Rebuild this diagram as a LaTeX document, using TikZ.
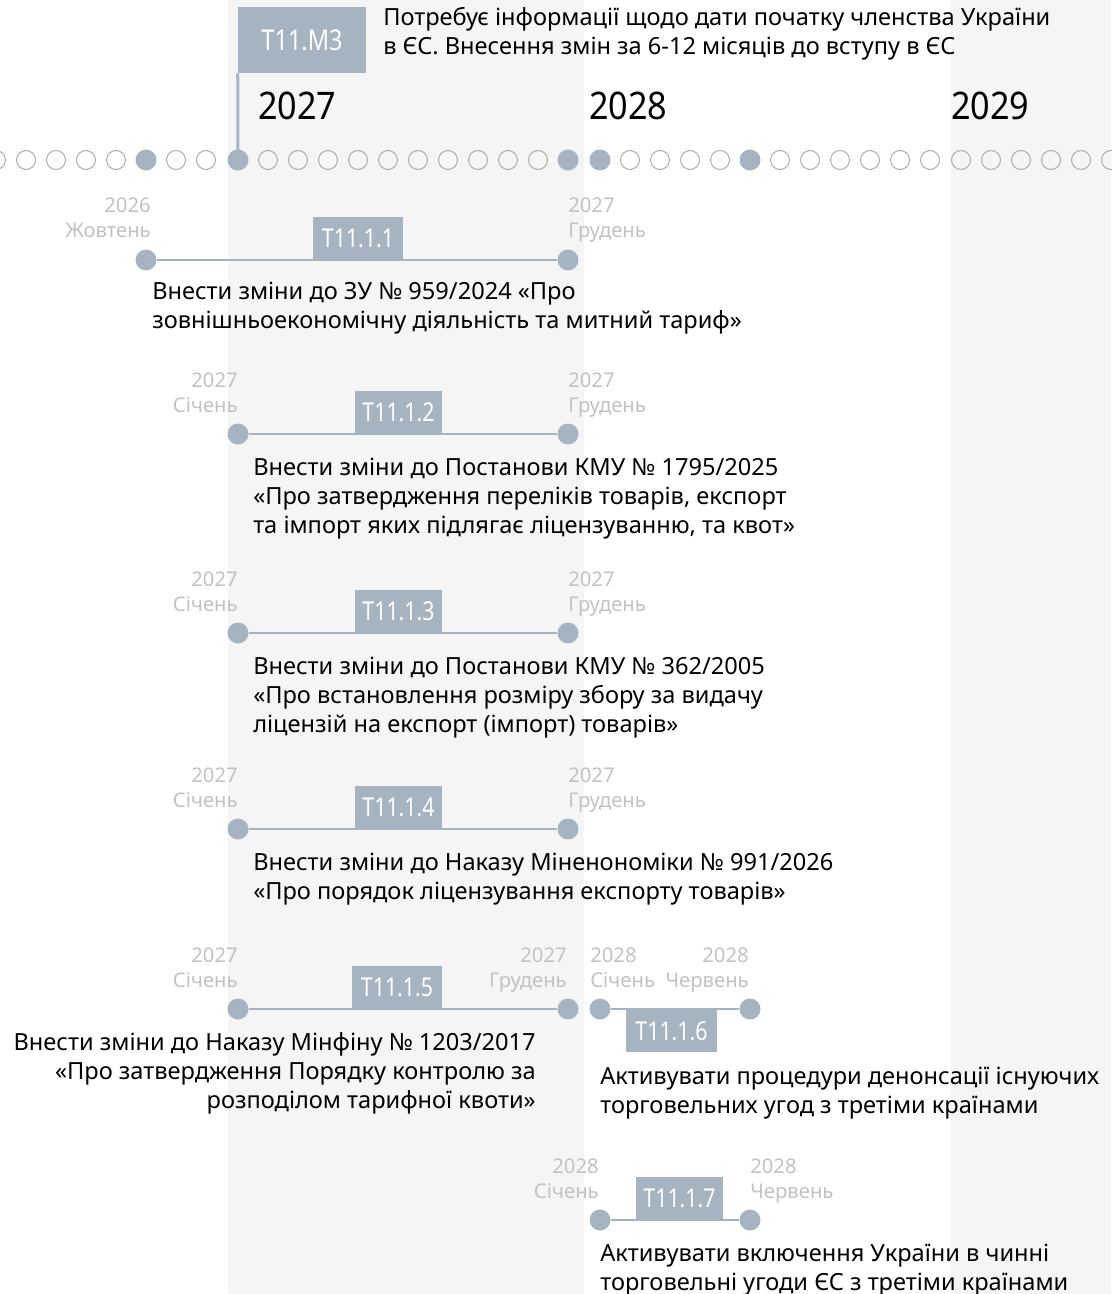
\documentclass[tikz,border=0pt]{standalone}
\usepackage{fontspec}
\setmainfont{Noto Sans}
\newfontfamily\tagfont[FakeStretch=0.82]{Noto Sans}
\newfontfamily\yearfont[FakeStretch=0.9]{Noto Sans}
\definecolor{band}{HTML}{F5F5F5}
\definecolor{steel}{HTML}{A6B4C1}
\definecolor{lbl}{HTML}{C2C2C2}
\definecolor{ring}{HTML}{ABABAB}
\pgfdeclarelayer{bgzero}
\pgfdeclarelayer{bgone}
\pgfsetlayers{bgzero,bgone,main}
\tikzset{
 monthdot/.style={circle, draw=ring, line width=0.75pt, minimum size=14.25pt, inner sep=0pt},
 keydot/.style={circle, fill=steel, minimum size=15.75pt, inner sep=0pt},
 enddot/.style={circle, fill=steel, minimum size=15.75pt, inner sep=0pt},
 tagbox/.style={fill=steel, text=white, font=\tagfont\fontsize{19.5}{20}\selectfont, inner sep=0pt, minimum height=32.25pt},
 datelbl/.style={text=lbl, font=\fontsize{15.2}{18.75}\selectfont, inner sep=0pt},
 desc/.style={font=\fontsize{17.7}{21.75}\selectfont, inner sep=0pt, text=black},
 yearlbl/.style={font=\yearfont\bfseries\fontsize{28.5}{30}\selectfont, inner sep=0pt, anchor=base west},
 link/.style={draw=steel, line width=1.6pt},
}
\begin{document}
\begin{tikzpicture}[x=0.75pt,y=-0.75pt]
\useasboundingbox (0,0) rectangle (1111,1294);
\begin{pgfonlayer}{bgzero}
\fill[band] (228,0) rectangle (584,1294);
\fill[band] (951,0) rectangle (1111,1294);
\end{pgfonlayer}

% month dots
\foreach \m in {5,...,12}{
  \pgfmathtruncatemacro\xx{206-30*(12-\m)}
  \ifnum\m=10 \node[keydot] (ya\m) at (\xx,160) {}; \else \node[monthdot] (ya\m) at (\xx,160) {}; \fi
}
\foreach \m in {1,...,12}{
  \pgfmathtruncatemacro\xx{238+30*(\m-1)}
  \ifnum\m=1 \node[keydot] (yb\m) at (\xx,160) {}; \else
  \ifnum\m=12 \node[keydot] (yb\m) at (\xx,160) {}; \else
  \node[monthdot] (yb\m) at (\xx,160) {}; \fi\fi
}
\foreach \m in {1,...,12}{
  \pgfmathtruncatemacro\xx{600+30*(\m-1)}
  \ifnum\m=1 \node[keydot] (yc\m) at (\xx,160) {}; \else
  \ifnum\m=6 \node[keydot] (yc\m) at (\xx,160) {}; \else
  \node[monthdot] (yc\m) at (\xx,160) {}; \fi\fi
}
\foreach \m in {1,...,6}{
  \pgfmathtruncatemacro\xx{961+30*(\m-1)}
  \node[monthdot] (yd\m) at (\xx,160) {};
}

% years
\node[yearlbl] (yr27) at (258,120) {2027};
\node[yearlbl] (yr28) at (589,120) {2028};
\node[yearlbl] (yr29) at (951,120) {2029};

% milestone
\node[tagbox, minimum width=96pt, minimum height=49.5pt, font=\tagfont\fontsize{21.5}{22}\selectfont] (m3) at (302,40) {T11.M3};
\begin{pgfonlayer}{bgone}
\draw[steel, line width=2.25pt] (m3.south west) -- (yb1.center);
\end{pgfonlayer}
\node[desc, align=left, anchor=base west] (m3d) at (383,55) {Потребує інформації щодо дати початку членства України\\в ЄС. Внесення змін за 6-12 місяців до вступу в ЄС};

% row 1
\node[enddot] (r1a) at (146,260) {};
\node[enddot] (r1b) at (568,260) {};
\node[tagbox, minimum width=67.5pt, anchor=south] (t1) at (358,260) {T11.1.1};
\node[datelbl, align=right, anchor=base east] (l1a) at (151,238) {2026\\Жовтень};
\node[datelbl, align=left, anchor=base west] (l1b) at (568,238) {2027\\Грудень};
\node[desc, align=left, anchor=base west] (d1) at (152,329) {Внести зміни до ЗУ № 959/2024 «Про\\зовнішньоекономічну діяльність та митний тариф»};

% row 2
\node[enddot] (r2a) at (238,434) {};
\node[enddot] (r2b) at (568,434) {};
\node[tagbox, minimum width=65.25pt, anchor=south] (t2) at (398.5,434) {T11.1.2};
\node[datelbl, align=right, anchor=base east] (l2a) at (238,412) {2027\\Січень};
\node[datelbl, align=left, anchor=base west] (l2b) at (568,412) {2027\\Грудень};
\node[desc, align=left, anchor=base west] (d2) at (253,533) {Внести зміни до Постанови КМУ № 1795/2025\\«Про затвердження переліків товарів, експорт\\та імпорт яких підлягає ліцензуванню, та квот»};

% row 3
\node[enddot] (r3a) at (238,633) {};
\node[enddot] (r3b) at (568,633) {};
\node[tagbox, minimum width=65.25pt, anchor=south] (t3) at (398.5,633) {T11.1.3};
\node[datelbl, align=right, anchor=base east] (l3a) at (238,611) {2027\\Січень};
\node[datelbl, align=left, anchor=base west] (l3b) at (568,611) {2027\\Грудень};
\node[desc, align=left, anchor=base west] (d3) at (253,732) {Внести зміни до Постанови КМУ № 362/2005\\«Про встановлення розміру збору за видачу\\ліцензій на експорт (імпорт) товарів»};

% row 4
\node[enddot] (r4a) at (238,829) {};
\node[enddot] (r4b) at (568,829) {};
\node[tagbox, minimum width=65.25pt, anchor=south] (t4) at (398.5,829) {T11.1.4};
\node[datelbl, align=right, anchor=base east] (l4a) at (238,807) {2027\\Січень};
\node[datelbl, align=left, anchor=base west] (l4b) at (568,807) {2027\\Грудень};
\node[desc, align=left, anchor=base west] (d4) at (253,899) {Внести зміни до Наказу Міненономіки № 991/2026\\«Про порядок ліцензування експорту товарів»};

% row 5
\node[enddot] (r5a) at (238,1009) {};
\node[enddot] (r5b) at (568,1009) {};
\node[tagbox, minimum width=67.5pt, anchor=south] (t5) at (397,1009) {T11.1.5};
\node[datelbl, align=right, anchor=base east] (l5a) at (238,987) {2027\\Січень};
\node[datelbl, align=right, anchor=base east] (l5b) at (567,987) {2027\\Грудень};
\node[desc, align=right, anchor=base east] (d5) at (536,1108) {Внести зміни до Наказу Мінфіну № 1203/2017\\«Про затвердження Порядку контролю за\\розподілом тарифної квоти»};

% row 6
\node[enddot] (r6a) at (600,1009) {};
\node[enddot] (r6b) at (750,1009) {};
\node[tagbox, minimum width=68.25pt, anchor=north] (t6) at (671.5,1009) {T11.1.6};
\node[datelbl, align=left, anchor=base west] (l6a) at (590,987) {2028\\Січень};
\node[datelbl, align=right, anchor=base east] (l6b) at (749,987) {2028\\Червень};
\node[desc, align=left, anchor=base west] (d6) at (600,1113) {Активувати процедури денонсації існуючих\\торговельних угод з третіми країнами};

% row 7
\node[enddot] (r7a) at (600,1220) {};
\node[enddot] (r7b) at (750,1220) {};
\node[tagbox, minimum width=65.25pt, anchor=south] (t7) at (679.5,1220) {T11.1.7};
\node[datelbl, align=right, anchor=base east] (l7a) at (599,1198) {2028\\Січень};
\node[datelbl, align=left, anchor=base west] (l7b) at (750,1198) {2028\\Червень};
\node[desc, align=left, anchor=base west] (d7) at (600,1290) {Активувати включення України в чинні\\торговельні угоди ЄС з третіми країнами};

\begin{pgfonlayer}{bgone}
\foreach \r in {1,...,7}{ \draw[link] (r\r a) -- (r\r b); }
\end{pgfonlayer}
\end{tikzpicture}
\end{document}
